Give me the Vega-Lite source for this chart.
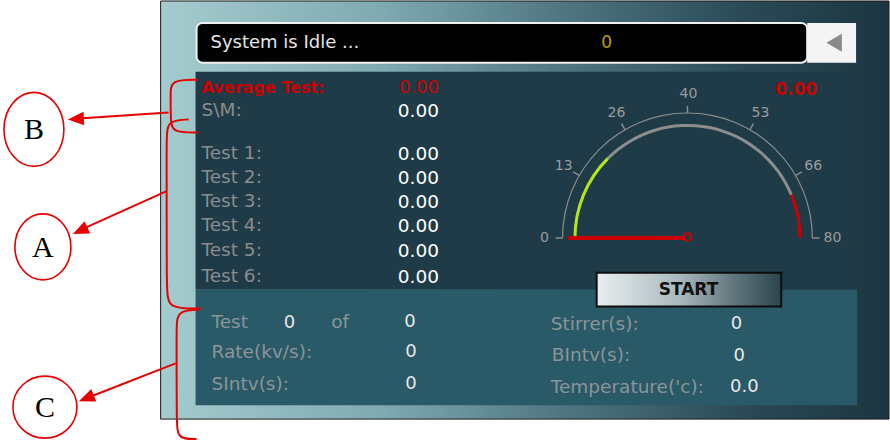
{
  "$schema": "https://vega.github.io/schema/vega-lite/v6.json",
  "width": 890,
  "height": 443,
  "padding": 0,
  "autosize": {"type": "fit", "contains": "padding"},
  "background": "white",
  "config": {"view": {"stroke": null}, "text": {"font": "DejaVu Sans"}},
  "resolve": {"scale": {"color": "independent"}},
  "layer": [
    {
      "data": {"values": [{"region": "screen", "x": 160, "x2": 890, "y": 1, "y2": 421}]},
      "mark": {"type": "rect", "stroke": "#1a1a1a", "strokeWidth": 1,
        "color": {"gradient": "linear", "x1": 0, "x2": 1, "y1": 0, "y2": 0,
          "stops": [{"offset": 0, "color": "#a4cccf"}, {"offset": 0.3, "color": "#80aab1"}, {"offset": 0.55, "color": "#4f7682"}, {"offset": 0.8, "color": "#2a4a56"}, {"offset": 1, "color": "#1c3641"}]}},
      "encoding": {
        "x": {"field": "x", "type": "quantitative", "scale": {"domain": [0, 890], "nice": false, "zero": false}, "axis": null},
        "x2": {"field": "x2"},
        "y": {"field": "y", "type": "quantitative", "scale": {"domain": [0, 443], "nice": false, "zero": false, "reverse": true}, "axis": null},
        "y2": {"field": "y2"}
      }
    },
    {
      "data": {"values": [
        {"region": "readings", "x": 195, "x2": 858, "y": 72, "y2": 291},
        {"region": "settings", "x": 195, "x2": 858, "y": 291, "y2": 407}
      ]},
      "mark": {"type": "rect"},
      "encoding": {
        "x": {"field": "x", "type": "quantitative", "scale": {"domain": [0, 890], "nice": false, "zero": false}, "axis": null},
        "x2": {"field": "x2"},
        "y": {"field": "y", "type": "quantitative", "scale": {"domain": [0, 443], "nice": false, "zero": false, "reverse": true}, "axis": null},
        "y2": {"field": "y2"},
        "color": {"field": "region", "type": "nominal", "scale": {"domain": ["readings", "settings"], "range": ["#1e3b47", "#2a5968"]}, "legend": null}
      }
    },
    {
      "data": {"values": [{"part": "status", "x": 196, "x2": 808, "y": 23, "y2": 63}]},
      "mark": {"type": "rect", "fill": "#000000", "stroke": "#f0f0f0", "strokeWidth": 2, "cornerRadius": 6},
      "encoding": {
        "x": {"field": "x", "type": "quantitative", "scale": {"domain": [0, 890], "nice": false, "zero": false}, "axis": null},
        "x2": {"field": "x2"},
        "y": {"field": "y", "type": "quantitative", "scale": {"domain": [0, 443], "nice": false, "zero": false, "reverse": true}, "axis": null},
        "y2": {"field": "y2"}
      }
    },
    {
      "data": {"values": [{"part": "back", "x": 808, "x2": 857, "y": 23, "y2": 63}]},
      "mark": {"type": "rect", "fill": "#f4f4f4"},
      "encoding": {
        "x": {"field": "x", "type": "quantitative", "scale": {"domain": [0, 890], "nice": false, "zero": false}, "axis": null},
        "x2": {"field": "x2"},
        "y": {"field": "y", "type": "quantitative", "scale": {"domain": [0, 443], "nice": false, "zero": false, "reverse": true}, "axis": null},
        "y2": {"field": "y2"}
      }
    },
    {
      "data": {"values": [{"part": "back arrow", "x": 835, "y": 43}]},
      "mark": {"type": "point", "shape": "triangle-left", "size": 320, "filled": true, "fill": "#8a8a8a", "opacity": 1},
      "encoding": {
        "x": {"field": "x", "type": "quantitative", "scale": {"domain": [0, 890], "nice": false, "zero": false}, "axis": null},
        "y": {"field": "y", "type": "quantitative", "scale": {"domain": [0, 443], "nice": false, "zero": false, "reverse": true}, "axis": null}
      }
    },
    {
      "data": {"values": [{"text": "System is Idle ...", "x": 210, "y": 43}]},
      "mark": {"type": "text", "align": "left", "baseline": "middle", "fontSize": 18, "fill": "#e6e6e6"},
      "encoding": {
        "x": {"field": "x", "type": "quantitative", "scale": {"domain": [0, 890], "nice": false, "zero": false}, "axis": null},
        "y": {"field": "y", "type": "quantitative", "scale": {"domain": [0, 443], "nice": false, "zero": false, "reverse": true}, "axis": null},
        "text": {"field": "text"}
      }
    },
    {
      "data": {"values": [{"text": "0", "x": 607, "y": 43}]},
      "mark": {"type": "text", "align": "center", "baseline": "middle", "fontSize": 17, "fill": "#b5a300"},
      "encoding": {
        "x": {"field": "x", "type": "quantitative", "scale": {"domain": [0, 890], "nice": false, "zero": false}, "axis": null},
        "y": {"field": "y", "type": "quantitative", "scale": {"domain": [0, 443], "nice": false, "zero": false, "reverse": true}, "axis": null},
        "text": {"field": "text"}
      }
    },
    {
      "data": {"values": [{"part": "start", "x": 597, "x2": 782, "y": 274, "y2": 308}]},
      "mark": {"type": "rect", "stroke": "#0d0d0d", "strokeWidth": 2,
        "color": {"gradient": "linear", "x1": 0, "x2": 1, "y1": 0, "y2": 0,
          "stops": [{"offset": 0, "color": "#e8eef0"}, {"offset": 0.45, "color": "#a9b8bc"}, {"offset": 0.75, "color": "#5f757b"}, {"offset": 1, "color": "#2b444c"}]}},
      "encoding": {
        "x": {"field": "x", "type": "quantitative", "scale": {"domain": [0, 890], "nice": false, "zero": false}, "axis": null},
        "x2": {"field": "x2"},
        "y": {"field": "y", "type": "quantitative", "scale": {"domain": [0, 443], "nice": false, "zero": false, "reverse": true}, "axis": null},
        "y2": {"field": "y2"}
      }
    },
    {
      "data": {"values": [{"text": "START", "x": 689, "y": 291}]},
      "mark": {"type": "text", "align": "center", "baseline": "middle", "fontSize": 17, "fontWeight": "bold", "fill": "#111111"},
      "encoding": {
        "x": {"field": "x", "type": "quantitative", "scale": {"domain": [0, 890], "nice": false, "zero": false}, "axis": null},
        "y": {"field": "y", "type": "quantitative", "scale": {"domain": [0, 443], "nice": false, "zero": false, "reverse": true}, "axis": null},
        "text": {"field": "text"}
      }
    },
    {
      "data": {"values": [{"from": 0, "to": 80}]},
      "mark": {"type": "arc", "radius": 125.5, "radius2": 124.3, "fill": "#8d8d8d"},
      "encoding": {
        "x": {"datum": 688, "type": "quantitative", "scale": {"domain": [0, 890], "nice": false, "zero": false}, "axis": null},
        "y": {"datum": 239, "type": "quantitative", "scale": {"domain": [0, 443], "nice": false, "zero": false, "reverse": true}, "axis": null},
        "theta": {"field": "from", "type": "quantitative", "stack": null, "scale": {"domain": [0, 80], "range": [-1.5708, 1.5708], "zero": false, "nice": false}},
        "theta2": {"field": "to"}
      }
    },
    {
      "data": {"values": [
        {"zone": "low", "from": 0, "to": 20},
        {"zone": "normal", "from": 20, "to": 70},
        {"zone": "high", "from": 70, "to": 80}
      ]},
      "mark": {"type": "arc", "radius": 114, "radius2": 111},
      "encoding": {
        "x": {"datum": 688, "type": "quantitative", "scale": {"domain": [0, 890], "nice": false, "zero": false}, "axis": null},
        "y": {"datum": 239, "type": "quantitative", "scale": {"domain": [0, 443], "nice": false, "zero": false, "reverse": true}, "axis": null},
        "theta": {"field": "from", "type": "quantitative", "stack": null, "scale": {"domain": [0, 80], "range": [-1.5708, 1.5708], "zero": false, "nice": false}},
        "theta2": {"field": "to"},
        "color": {"field": "zone", "type": "nominal", "scale": {"domain": ["low", "normal", "high"], "range": ["#b6e51e", "#8d8d8d", "#cc0000"]}, "legend": null}
      }
    },
    {
      "data": {"name": "gaugeTicks", "values": [
        {"mark": 0, "label": "0"},
        {"mark": 13.33, "label": "13"},
        {"mark": 26.67, "label": "26"},
        {"mark": 40, "label": "40"},
        {"mark": 53.33, "label": "53"},
        {"mark": 66.67, "label": "66"},
        {"mark": 80, "label": "80"}
      ]},
      "mark": {"type": "arc", "radius": 132, "radius2": 125, "stroke": "#8d8d8d", "strokeWidth": 1.5, "fill": null},
      "encoding": {
        "x": {"datum": 688, "type": "quantitative", "scale": {"domain": [0, 890], "nice": false, "zero": false}, "axis": null},
        "y": {"datum": 239, "type": "quantitative", "scale": {"domain": [0, 443], "nice": false, "zero": false, "reverse": true}, "axis": null},
        "theta": {"field": "mark", "type": "quantitative", "stack": null, "scale": {"domain": [0, 80], "range": [-1.5708, 1.5708], "zero": false, "nice": false}},
        "theta2": {"field": "mark"}
      }
    },
    {
      "data": {"name": "gaugeTicks"},
      "mark": {"type": "text", "radius": 144, "align": "center", "baseline": "middle", "fontSize": 14, "fill": "#9b9b9b"},
      "encoding": {
        "x": {"datum": 689, "type": "quantitative", "scale": {"domain": [0, 890], "nice": false, "zero": false}, "axis": null},
        "y": {"datum": 239, "type": "quantitative", "scale": {"domain": [0, 443], "nice": false, "zero": false, "reverse": true}, "axis": null},
        "theta": {"field": "mark", "type": "quantitative", "stack": null, "scale": {"domain": [0, 80], "range": [-1.5708, 1.5708], "zero": false, "nice": false}},
        "text": {"field": "label"}
      }
    },
    {
      "data": {"values": [{"reading": 0}]},
      "mark": {"type": "arc", "radius": 120, "radius2": 0, "stroke": "#cc0000", "strokeWidth": 4, "fill": null},
      "encoding": {
        "x": {"datum": 688, "type": "quantitative", "scale": {"domain": [0, 890], "nice": false, "zero": false}, "axis": null},
        "y": {"datum": 239, "type": "quantitative", "scale": {"domain": [0, 443], "nice": false, "zero": false, "reverse": true}, "axis": null},
        "theta": {"field": "reading", "type": "quantitative", "stack": null, "scale": {"domain": [0, 80], "range": [-1.5708, 1.5708], "zero": false, "nice": false}},
        "theta2": {"field": "reading"}
      }
    },
    {
      "data": {"values": [{"hub": "needle"}]},
      "mark": {"type": "point", "shape": "circle", "size": 55, "filled": false, "fill": "#1e3b47", "stroke": "#cc0000", "strokeWidth": 2, "opacity": 1},
      "encoding": {
        "x": {"datum": 688, "type": "quantitative", "scale": {"domain": [0, 890], "nice": false, "zero": false}, "axis": null},
        "y": {"datum": 238, "type": "quantitative", "scale": {"domain": [0, 443], "nice": false, "zero": false, "reverse": true}, "axis": null}
      }
    },
    {
      "data": {"values": [{"reading": "0.00"}]},
      "mark": {"type": "text", "align": "center", "baseline": "middle", "fontSize": 17, "fontWeight": "bold", "fill": "#cc0000"},
      "encoding": {
        "x": {"datum": 797, "type": "quantitative", "scale": {"domain": [0, 890], "nice": false, "zero": false}, "axis": null},
        "y": {"datum": 90, "type": "quantitative", "scale": {"domain": [0, 443], "nice": false, "zero": false, "reverse": true}, "axis": null},
        "text": {"field": "reading"}
      }
    },
    {
      "data": {"name": "readings", "values": [
        {"label": "Average Test:", "value": "0.00", "group": "average", "y": 88},
        {"label": "S\\M:", "value": "0.00", "group": "spread", "y": 111},
        {"label": "Test 1:", "value": "0.00", "group": "test", "y": 154},
        {"label": "Test 2:", "value": "0.00", "group": "test", "y": 178},
        {"label": "Test 3:", "value": "0.00", "group": "test", "y": 202},
        {"label": "Test 4:", "value": "0.00", "group": "test", "y": 226},
        {"label": "Test 5:", "value": "0.00", "group": "test", "y": 251},
        {"label": "Test 6:", "value": "0.00", "group": "test", "y": 277}
      ]},
      "transform": [{"filter": "datum.group === 'average'"}],
      "mark": {"type": "text", "align": "left", "baseline": "middle", "fontSize": 16, "fontWeight": "bold", "fill": "#cc0000"},
      "encoding": {
        "x": {"datum": 201, "type": "quantitative", "scale": {"domain": [0, 890], "nice": false, "zero": false}, "axis": null},
        "y": {"field": "y", "type": "quantitative", "scale": {"domain": [0, 443], "nice": false, "zero": false, "reverse": true}, "axis": null},
        "text": {"field": "label"}
      }
    },
    {
      "data": {"name": "readings"},
      "transform": [{"filter": "datum.group !== 'average'"}],
      "mark": {"type": "text", "align": "left", "baseline": "middle", "fontSize": 18.5, "fill": "#8c8c8c"},
      "encoding": {
        "x": {"datum": 201, "type": "quantitative", "scale": {"domain": [0, 890], "nice": false, "zero": false}, "axis": null},
        "y": {"field": "y", "type": "quantitative", "scale": {"domain": [0, 443], "nice": false, "zero": false, "reverse": true}, "axis": null},
        "text": {"field": "label"}
      }
    },
    {
      "data": {"name": "readings"},
      "transform": [{"filter": "datum.group === 'average'"}],
      "mark": {"type": "text", "align": "right", "baseline": "middle", "fontSize": 18, "fill": "#cc0000"},
      "encoding": {
        "x": {"datum": 439, "type": "quantitative", "scale": {"domain": [0, 890], "nice": false, "zero": false}, "axis": null},
        "y": {"field": "y", "type": "quantitative", "scale": {"domain": [0, 443], "nice": false, "zero": false, "reverse": true}, "axis": null},
        "text": {"field": "value"}
      }
    },
    {
      "data": {"name": "readings"},
      "transform": [{"filter": "datum.group !== 'average'"}],
      "mark": {"type": "text", "align": "right", "baseline": "middle", "fontSize": 18.5, "fill": "#ffffff", "dy": 1},
      "encoding": {
        "x": {"datum": 439, "type": "quantitative", "scale": {"domain": [0, 890], "nice": false, "zero": false}, "axis": null},
        "y": {"field": "y", "type": "quantitative", "scale": {"domain": [0, 443], "nice": false, "zero": false, "reverse": true}, "axis": null},
        "text": {"field": "value"}
      }
    },
    {
      "data": {"name": "settings", "values": [
        {"text": "Test", "kind": "label", "x": 211, "y": 323},
        {"text": "0", "kind": "value", "x": 289, "y": 324},
        {"text": "of", "kind": "label", "x": 331, "y": 323},
        {"text": "0", "kind": "value", "x": 410, "y": 323},
        {"text": "Rate(kv/s):", "kind": "label", "x": 211, "y": 354},
        {"text": "0", "kind": "value", "x": 411, "y": 354},
        {"text": "SIntv(s):", "kind": "label", "x": 211, "y": 386},
        {"text": "0", "kind": "value", "x": 411, "y": 386},
        {"text": "Stirrer(s):", "kind": "label", "x": 551, "y": 325},
        {"text": "0", "kind": "value", "x": 737, "y": 325},
        {"text": "BIntv(s):", "kind": "label", "x": 552, "y": 357},
        {"text": "0", "kind": "value", "x": 740, "y": 358},
        {"text": "Temperature('c):", "kind": "label", "x": 551, "y": 389},
        {"text": "0.0", "kind": "value", "x": 745, "y": 389}
      ]},
      "transform": [{"filter": "datum.kind === 'label'"}],
      "mark": {"type": "text", "align": "left", "baseline": "middle", "fontSize": 18.5, "fill": "#8a9598"},
      "encoding": {
        "x": {"field": "x", "type": "quantitative", "scale": {"domain": [0, 890], "nice": false, "zero": false}, "axis": null},
        "y": {"field": "y", "type": "quantitative", "scale": {"domain": [0, 443], "nice": false, "zero": false, "reverse": true}, "axis": null},
        "text": {"field": "text"}
      }
    },
    {
      "data": {"name": "settings"},
      "transform": [{"filter": "datum.kind === 'value'"}],
      "mark": {"type": "text", "align": "center", "baseline": "middle", "fontSize": 18, "fill": "#e8e8e8"},
      "encoding": {
        "x": {"field": "x", "type": "quantitative", "scale": {"domain": [0, 890], "nice": false, "zero": false}, "axis": null},
        "y": {"field": "y", "type": "quantitative", "scale": {"domain": [0, 443], "nice": false, "zero": false, "reverse": true}, "axis": null},
        "text": {"field": "text"}
      }
    },
    {
      "data": {"values": [
        {"brace": "B", "i": 0, "x": 197, "y": 80},
        {"brace": "B", "i": 1, "x": 170, "y": 80},
        {"brace": "B", "i": 2, "x": 170, "y": 95},
        {"brace": "B", "i": 3, "x": 170, "y": 122},
        {"brace": "B", "i": 4, "x": 172, "y": 133},
        {"brace": "B", "i": 5, "x": 197, "y": 133},
        {"brace": "A", "i": 0, "x": 188, "y": 120},
        {"brace": "A", "i": 1, "x": 166, "y": 121},
        {"brace": "A", "i": 2, "x": 166, "y": 140},
        {"brace": "A", "i": 3, "x": 166, "y": 292},
        {"brace": "A", "i": 4, "x": 167, "y": 310},
        {"brace": "A", "i": 5, "x": 200, "y": 310},
        {"brace": "C", "i": 0, "x": 199, "y": 311},
        {"brace": "C", "i": 1, "x": 176, "y": 312},
        {"brace": "C", "i": 2, "x": 176, "y": 330},
        {"brace": "C", "i": 3, "x": 176, "y": 425},
        {"brace": "C", "i": 4, "x": 177, "y": 441},
        {"brace": "C", "i": 5, "x": 196, "y": 441}
      ]},
      "mark": {"type": "line", "interpolate": "basis", "stroke": "#e60000", "strokeWidth": 2},
      "encoding": {
        "x": {"field": "x", "type": "quantitative", "scale": {"domain": [0, 890], "nice": false, "zero": false}, "axis": null},
        "y": {"field": "y", "type": "quantitative", "scale": {"domain": [0, 443], "nice": false, "zero": false, "reverse": true}, "axis": null},
        "order": {"field": "i"},
        "detail": {"field": "brace"}
      }
    },
    {
      "data": {"values": [
        {"tag": "B", "x": 168, "y": 113, "x2": 78, "y2": 119},
        {"tag": "A", "x": 166, "y": 192, "x2": 82, "y2": 230},
        {"tag": "C", "x": 175, "y": 365, "x2": 88, "y2": 399}
      ]},
      "mark": {"type": "rule", "stroke": "#e60000", "strokeWidth": 2},
      "encoding": {
        "x": {"field": "x", "type": "quantitative", "scale": {"domain": [0, 890], "nice": false, "zero": false}, "axis": null},
        "y": {"field": "y", "type": "quantitative", "scale": {"domain": [0, 443], "nice": false, "zero": false, "reverse": true}, "axis": null},
        "x2": {"field": "x2"},
        "y2": {"field": "y2"}
      }
    },
    {
      "data": {"values": [
        {"tag": "B", "x": 67, "y": 120, "heading": -3.4},
        {"tag": "A", "x": 72, "y": 235, "heading": -24.6},
        {"tag": "C", "x": 78, "y": 403, "heading": -21.4}
      ]},
      "mark": {"type": "point", "shape": "M0,0L1,-0.42L1,0.42Z", "size": 1024, "filled": true, "fill": "#e60000", "opacity": 1},
      "encoding": {
        "x": {"field": "x", "type": "quantitative", "scale": {"domain": [0, 890], "nice": false, "zero": false}, "axis": null},
        "y": {"field": "y", "type": "quantitative", "scale": {"domain": [0, 443], "nice": false, "zero": false, "reverse": true}, "axis": null},
        "angle": {"field": "heading", "type": "quantitative", "scale": null}
      }
    },
    {
      "data": {"name": "tags", "values": [
        {"tag": "B", "x": 33, "y": 130},
        {"tag": "A", "x": 42, "y": 248},
        {"tag": "C", "x": 44, "y": 409}
      ]},
      "mark": {"type": "point", "size": 5476, "filled": false, "stroke": "#e60000", "strokeWidth": 1.6, "opacity": 1},
      "encoding": {
        "x": {"field": "x", "type": "quantitative", "scale": {"domain": [0, 890], "nice": false, "zero": false}, "axis": null},
        "y": {"field": "y", "type": "quantitative", "scale": {"domain": [0, 443], "nice": false, "zero": false, "reverse": true}, "axis": null},
        "shape": {"field": "tag", "type": "nominal", "legend": null, "scale": {"domain": ["A", "B", "C"], "range": [
          "M-0.757,0A0.757,0.892,0,1,0,0.757,0A0.757,0.892,0,1,0,-0.757,0Z",
          "M-0.81,0A0.81,1,0,1,0,0.81,0A0.81,1,0,1,0,-0.81,0Z",
          "M-0.865,0A0.865,0.838,0,1,0,0.865,0A0.865,0.838,0,1,0,-0.865,0Z"
        ]}}
      }
    },
    {
      "data": {"name": "tags"},
      "mark": {"type": "text", "align": "center", "baseline": "middle", "font": "Liberation Serif", "fontSize": 30, "fill": "#000000", "dy": 1},
      "encoding": {
        "x": {"field": "x", "type": "quantitative", "scale": {"domain": [0, 890], "nice": false, "zero": false}, "axis": null},
        "y": {"field": "y", "type": "quantitative", "scale": {"domain": [0, 443], "nice": false, "zero": false, "reverse": true}, "axis": null},
        "text": {"field": "tag"}
      }
    }
  ]
}
